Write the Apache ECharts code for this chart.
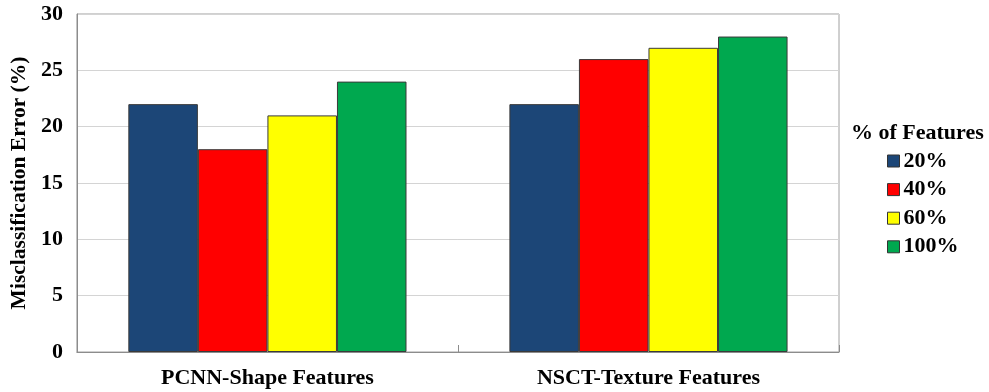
<!DOCTYPE html>
<html>
<head>
<meta charset="utf-8">
<script src="https://cdn.jsdelivr.net/npm/echarts@6/dist/echarts.min.js"></script>
<style>
  html, body { margin: 0; padding: 0; background: #ffffff; }
  #chart { width: 989px; height: 392px; }
</style>
</head>
<body>
<div id="chart"></div>
<script>
// Feature-set groups on the x axis
const categories = ['PCNN-Shape Features', 'NSCT-Texture Features'];

// Misclassification error (%) per share of features kept
const seriesNames = ['20%', '40%', '60%', '100%'];
const pct20  = [22, 22];
const pct40  = [18, 26];
const pct60  = [21, 27];
const pct100 = [24, 28];

const yTicks = [0, 5, 10, 15, 20, 25, 30];

const colors = ['#1c4677', '#ff0000', '#ffff00', '#00a84f'];
const serifFont = '"Liberation Serif", "Times New Roman", serif';

const chart = echarts.init(document.getElementById('chart'));

const values = [pct20, pct40, pct60, pct100];

chart.setOption({
  backgroundColor: '#ffffff',
  animation: false,
  title: {
    text: '% of Features',
    left: 846,
    top: 117,
    textStyle: { fontFamily: serifFont, fontWeight: 'bold', fontSize: 22, color: '#000' }
  },
  legend: {
    orient: 'vertical',
    left: 882,
    top: 145,
    itemWidth: 12,
    itemHeight: 12,
    itemGap: 6.6,
    icon: 'rect',
    data: seriesNames,
    textStyle: { fontFamily: serifFont, fontWeight: 'bold', fontSize: 22, color: '#000', lineHeight: 21, padding: [0, 0, 0, -1] },
    itemStyle: { borderColor: '#333', borderWidth: 1 }
  },
  grid: {
    left: 76,
    top: 14,
    width: 763,
    height: 338,
    show: true,
    borderColor: '#a0a0a0',
    borderWidth: 1,
    containLabel: false
  },
  xAxis: {
    type: 'category',
    data: categories,
    axisLine: { lineStyle: { color: '#8c8c8c', width: 1 } },
    axisTick: { show: true, inside: true, length: 7, lineStyle: { color: '#8c8c8c' } },
    axisLabel: {
      margin: 15,
      fontFamily: serifFont, fontWeight: 'bold', fontSize: 22, color: '#000'
    }
  },
  yAxis: {
    type: 'value',
    min: yTicks[0],
    max: yTicks[yTicks.length - 1],
    interval: yTicks[1] - yTicks[0],
    name: 'Misclassification Error (%)',
    nameLocation: 'middle',
    nameGap: 45,
    nameTextStyle: { fontFamily: serifFont, fontWeight: 'bold', fontSize: 21.5, color: '#000' },
    axisLine: { show: true, lineStyle: { color: '#8c8c8c', width: 1 } },
    axisTick: { show: false },
    axisLabel: {
      margin: 14,
      fontFamily: serifFont, fontWeight: 'bold', fontSize: 22, color: '#000'
    },
    splitLine: { lineStyle: { color: '#d4d4d4', width: 1 } }
  },
  series: seriesNames.map((name, i) => ({
    name: name,
    type: 'bar',
    data: values[i],
    barGap: '0%',
    barCategoryGap: '27%',
    itemStyle: { color: colors[i], borderColor: '#3a3a3a', borderWidth: 1 }
  }))
});
</script>
</body>
</html>
